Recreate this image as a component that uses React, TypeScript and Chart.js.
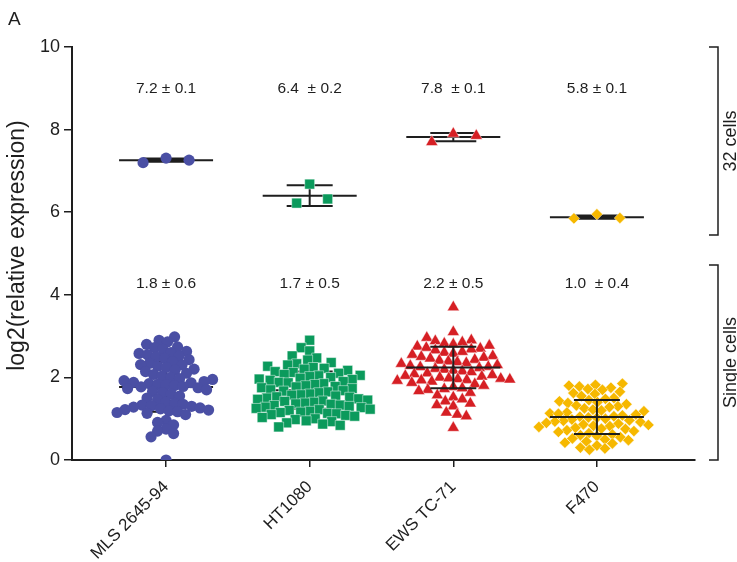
import React, { useEffect, useRef } from "react";
import { Chart, registerables } from "chart.js";

Chart.register(...registerables);

// ---------- data ----------
const categories = ["MLS 2645-94", "HT1080", "EWS TC-71", "F470"];

// 32-cell pools (three replicates each)
const mlsPooled = [7.31, 7.2, 7.26];
const htPooled = [6.68, 6.22, 6.32];
const ewsPooled = [7.9, 7.7, 7.85];
const f470Pooled = [5.95, 5.85, 5.86];

// single cells
const mlsSingle = [
  2.98, 2.9, 2.86, 2.8, 2.74, 2.72, 2.68, 2.63, 2.6, 2.58, 2.55, 2.52, 2.5, 2.46,
  2.43, 2.38, 2.34, 2.31, 2.3, 2.27, 2.24, 2.2, 2.18, 2.14, 2.1, 2.07, 2.03, 2.0,
  1.97, 1.95, 1.92, 1.9, 1.88, 1.87, 1.85, 1.83, 1.82, 1.8, 1.78, 1.77, 1.75,
  1.73, 1.7, 1.66, 1.63, 1.6, 1.55, 1.5, 1.46, 1.4, 1.37, 1.35, 1.33, 1.31, 1.3,
  1.28, 1.26, 1.24, 1.22, 1.21, 1.19, 1.17, 1.15, 1.13, 1.1, 0.96, 0.91, 0.85,
  0.75, 0.7, 0.64, 0.56, 0.0,
];
const htSingle = [
  2.9, 2.72, 2.64, 2.52, 2.47, 2.42, 2.36, 2.33, 2.3, 2.27, 2.24, 2.22, 2.2,
  2.17, 2.14, 2.12, 2.1, 2.07, 2.05, 2.04, 2.02, 2.0, 1.98, 1.96, 1.95, 1.93,
  1.9, 1.88, 1.87, 1.85, 1.83, 1.8, 1.78, 1.77, 1.75, 1.73, 1.7, 1.68, 1.67,
  1.65, 1.63, 1.6, 1.58, 1.57, 1.55, 1.53, 1.52, 1.5, 1.48, 1.47, 1.45, 1.43,
  1.42, 1.4, 1.38, 1.36, 1.35, 1.33, 1.32, 1.3, 1.28, 1.27, 1.25, 1.23, 1.22,
  1.2, 1.18, 1.16, 1.15, 1.13, 1.12, 1.1, 1.08, 1.06, 1.03, 1.0, 0.98, 0.95,
  0.93, 0.9, 0.87, 0.84, 0.8,
];
const ewsSingle = [
  3.7, 3.1, 2.96, 2.9, 2.88, 2.85, 2.82, 2.8, 2.77, 2.75, 2.72, 2.7, 2.68, 2.66,
  2.62, 2.6, 2.58, 2.55, 2.52, 2.5, 2.48, 2.46, 2.43, 2.41, 2.39, 2.37, 2.35,
  2.33, 2.3, 2.28, 2.26, 2.25, 2.23, 2.21, 2.19, 2.17, 2.15, 2.13, 2.1, 2.08,
  2.06, 2.04, 2.02, 2.0, 1.98, 1.97, 1.96, 1.95, 1.94, 1.93, 1.92, 1.9, 1.87,
  1.84, 1.8, 1.77, 1.74, 1.72, 1.7, 1.67, 1.63, 1.57, 1.52, 1.47, 1.42, 1.37,
  1.33, 1.3, 1.15, 1.1, 1.06, 0.78,
];
const f470Single = [
  1.85, 1.82, 1.8, 1.78, 1.75, 1.72, 1.7, 1.65, 1.62, 1.6, 1.55, 1.5, 1.48,
  1.45, 1.42, 1.4, 1.38, 1.35, 1.32, 1.3, 1.28, 1.25, 1.22, 1.2, 1.18, 1.15,
  1.13, 1.12, 1.1, 1.08, 1.06, 1.05, 1.03, 1.02, 1.0, 0.98, 0.96, 0.95, 0.93,
  0.92, 0.9, 0.88, 0.86, 0.85, 0.83, 0.82, 0.8, 0.78, 0.76, 0.75, 0.72, 0.7,
  0.68, 0.65, 0.62, 0.6, 0.58, 0.55, 0.52, 0.5, 0.48, 0.45, 0.42, 0.4, 0.35,
  0.3, 0.28, 0.25,
];

// summary (mean, SD) drawn as bars
const pooledMeans = [7.26, 6.4, 7.82, 5.88];
const pooledSDs = [0.04, 0.25, 0.1, 0.04];
const singleMeans = [1.77, 1.69, 2.24, 1.04];
const singleSDs = [0.6, 0.45, 0.5, 0.41];

// annotation texts
const pooledLabels = ["7.2 ± 0.1", "6.4  ± 0.2", "7.8  ± 0.1", "5.8 ± 0.1"];
const singleLabels = ["1.8 ± 0.6", "1.7 ± 0.5", "2.2 ± 0.5", "1.0  ± 0.4"];
const pooledLabelY = 9.0;
const singleLabelY = 4.28;

const yTicks = [0, 2, 4, 6, 8, 10];
const yTitle = "log2(relative expression)";
const bracketLabels = ["32 cells", "Single cells"];
const bracketRanges = [
  [10, 5.45],
  [4.72, 0],
];
const panelLetter = "A";

// ---------- style ----------
const colors = ["#4a4fa4", "#0b9a5c", "#d61f24", "#f6b800"];
const pointStyles = ["circle", "rect", "triangle", "rectRot"];
const pointRadii = [5.6, 7, 7, 5.7];
const swarmDist = [8.5, 9, 9, 8.5];
const FONT = "'Liberation Sans', Arial, Helvetica, sans-serif";
const INK = "#1e1e1e";

function swarmOffsets(values: number[], pxX: number, pxY: number, d: number, centreFirst: boolean) {
  const sorted = [...values].sort((a, b) => a - b);
  const med = sorted[Math.floor(sorted.length / 2)];
  const order = values.map((_, i) => i);
  if (centreFirst) order.sort((a, b) => Math.abs(values[a] - med) - Math.abs(values[b] - med));
  const placed: { x: number; y: number }[] = [];
  const out: number[] = new Array(values.length).fill(0);
  order.forEach((idx, n) => {
    const py = values[idx] * pxY;
    let chosen = 0;
    for (let k = 0; k < 2000; k++) {
      const step = k * 0.5;
      const cands = k === 0 ? [0] : n % 2 ? [-step, step] : [step, -step];
      let found: number | null = null;
      for (const c of cands) {
        let ok = true;
        for (const p of placed) {
          const dx = p.x - c;
          const dy = p.y - py;
          if (dx * dx + dy * dy < d * d) {
            ok = false;
            break;
          }
        }
        if (ok) {
          found = c;
          break;
        }
      }
      if (found !== null) {
        chosen = found;
        break;
      }
    }
    placed.push({ x: chosen, y: py });
    out[idx] = chosen / pxX;
  });
  return out;
}

export default function App() {
  const ref = useRef<HTMLCanvasElement>(null);

  useEffect(() => {
    if (!ref.current) return;
    const singles = [mlsSingle, htSingle, ewsSingle, f470Single];
    const pooled = [mlsPooled, htPooled, ewsPooled, f470Pooled];

    const drawBar = (chart: any, i: number, m: number, s: number) => {
      const { ctx } = chart;
      const cx = chart.scales.x.getPixelForValue(i);
      const ys = chart.scales.y;
      const ym = ys.getPixelForValue(m);
      const yt = ys.getPixelForValue(m + s);
      const yb = ys.getPixelForValue(m - s);
      ctx.save();
      ctx.strokeStyle = INK;
      ctx.lineWidth = 2;
      ctx.beginPath();
      ctx.moveTo(cx - 47, ym);
      ctx.lineTo(cx + 47, ym);
      ctx.moveTo(cx - 23, yt);
      ctx.lineTo(cx + 23, yt);
      ctx.moveTo(cx - 23, yb);
      ctx.lineTo(cx + 23, yb);
      ctx.moveTo(cx, yt);
      ctx.lineTo(cx, yb);
      ctx.stroke();
      ctx.restore();
    };

    const overlay = {
      id: "overlay",
      beforeDatasetsDraw(chart: any) {
        categories.forEach((_, i) => drawBar(chart, i, pooledMeans[i], pooledSDs[i]));
        [0, 1].forEach((i) => drawBar(chart, i, singleMeans[i], singleSDs[i]));
      },
      afterDatasetsDraw(chart: any) {
        [2, 3].forEach((i) => drawBar(chart, i, singleMeans[i], singleSDs[i]));
        const { ctx, chartArea } = chart;
        const xs = chart.scales.x;
        const ys = chart.scales.y;
        ctx.save();
        ctx.fillStyle = INK;
        ctx.font = `15.5px ${FONT}`;
        ctx.textAlign = "center";
        ctx.textBaseline = "middle";
        categories.forEach((_, i) => {
          const cx = xs.getPixelForValue(i);
          ctx.fillText(pooledLabels[i], cx, ys.getPixelForValue(pooledLabelY));
          ctx.fillText(singleLabels[i], cx, ys.getPixelForValue(singleLabelY));
        });
        // brackets
        ctx.strokeStyle = INK;
        ctx.lineWidth = 1.5;
        const bx = chartArea.right + 23;
        bracketRanges.forEach(([a, b], k) => {
          const y1 = ys.getPixelForValue(a);
          const y2 = ys.getPixelForValue(b);
          ctx.beginPath();
          ctx.moveTo(bx - 9, y1);
          ctx.lineTo(bx, y1);
          ctx.lineTo(bx, y2);
          ctx.lineTo(bx - 9, y2);
          ctx.stroke();
          ctx.save();
          ctx.translate(bx + 13, (y1 + y2) / 2);
          ctx.rotate(-Math.PI / 2);
          ctx.font = `18px ${FONT}`;
          ctx.fillText(bracketLabels[k], 0, 0);
          ctx.restore();
        });
        // y title
        ctx.save();
        ctx.translate(18, (chartArea.top + chartArea.bottom) / 2 - 8);
        ctx.rotate(-Math.PI / 2);
        ctx.font = `23px ${FONT}`;
        ctx.textAlign = "center";
        ctx.textBaseline = "middle";
        ctx.fillText(yTitle, 0, 0);
        ctx.restore();
        // panel letter
        ctx.font = `19px ${FONT}`;
        ctx.textAlign = "left";
        ctx.textBaseline = "alphabetic";
        ctx.fillText(panelLetter, 8, 25);
        ctx.restore();
      },
    };

    const datasets = categories.map((c, i) => ({
      label: c,
      data: [
        ...pooled[i].map((v) => ({ x: i, y: v })),
        ...singles[i].map((v) => ({ x: i, y: v })),
      ],
      backgroundColor: colors[i],
      borderColor: i === 0 ? colors[i] : "rgba(255,255,255,0.75)",
      borderWidth: i === 0 ? 0 : 0.6,
      pointStyle: pointStyles[i],
      pointRadius: pointRadii[i],
      pointHoverRadius: pointRadii[i],
    }));

    const chart = new Chart(ref.current, {
      type: "scatter",
      data: { datasets: datasets as any },
      plugins: [overlay],
      options: {
        animation: false,
        responsive: true,
        maintainAspectRatio: false,
        layout: { padding: { top: 47, right: 42, left: 0, bottom: 0 } },
        plugins: { legend: { display: false }, tooltip: { enabled: false } },
        scales: {
          x: {
            type: "linear",
            min: -0.655,
            max: 3.683,
            afterBuildTicks: (a: any) => {
              a.ticks = categories.map((_, i) => ({ value: i }));
            },
            afterFit: (s: any) => {
              s.height = 102;
            },
            ticks: {
              autoSkip: false,
              minRotation: 45,
              maxRotation: 45,
              padding: 10,
              color: INK,
              font: { family: FONT, size: 17 },
              callback: (v: any) => categories[v as number] ?? "",
            },
            grid: {
              drawOnChartArea: false,
              drawTicks: true,
              tickLength: 7,
              color: INK,
              lineWidth: 1.5,
            },
            border: { color: INK, width: 2 },
          },
          y: {
            min: 0,
            max: 10,
            afterBuildTicks: (a: any) => {
              a.ticks = yTicks.map((v) => ({ value: v }));
            },
            afterFit: (s: any) => {
              s.width = 72;
            },
            ticks: {
              padding: 4,
              color: INK,
              font: { family: FONT, size: 18 },
            },
            grid: {
              drawOnChartArea: false,
              drawTicks: true,
              tickLength: 8,
              color: INK,
              lineWidth: 1.5,
            },
            border: { color: INK, width: 2 },
          },
        },
      },
    });

    const xs: any = chart.scales.x;
    const ys: any = chart.scales.y;
    const pxX = xs.getPixelForValue(1) - xs.getPixelForValue(0);
    const pxY = ys.getPixelForValue(0) - ys.getPixelForValue(1);
    chart.data.datasets.forEach((ds: any, i: number) => {
      const o32 = swarmOffsets(pooled[i], pxX, pxY, 23, false);
      const o1 = swarmOffsets(singles[i], pxX, pxY, swarmDist[i], true);
      ds.data = [
        ...pooled[i].map((v, j) => ({ x: i + o32[j], y: v })),
        ...singles[i].map((v, j) => ({ x: i + o1[j], y: v })),
      ];
    });
    chart.update();

    return () => chart.destroy();
  }, []);

  return (
    <div style={{ position: "fixed", left: 0, top: 0, width: 737, height: 562 }}>
      <canvas ref={ref} />
    </div>
  );
}
